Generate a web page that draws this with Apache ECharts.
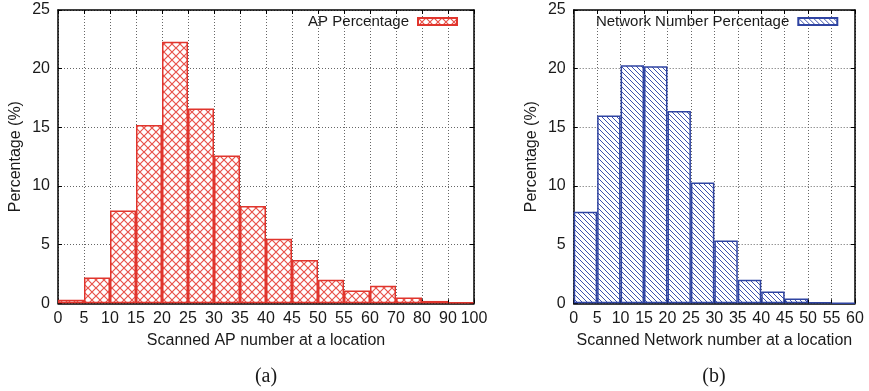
<!DOCTYPE html>
<html>
<head>
<meta charset="utf-8">
<script src="https://cdn.jsdelivr.net/npm/echarts@6/dist/echarts.min.js"></script>
<style>
  html, body { margin: 0; padding: 0; background: #fff; }
  #chart { width: 869px; height: 391px; }
</style>
</head>
<body>
<div id="chart"></div>
<script>
// (a) share of locations by number of scanned APs (bin edges shown as tick labels)
const apBinEdges = ['0', '5', '10', '15', '20', '25', '30', '35', '40', '45', '50', '55', '60', '70', '80', '90', '100'];
const apPercent = [0.3, 2.2, 7.9, 15.2, 22.3, 16.6, 12.6, 8.3, 5.5, 3.7, 2.0, 1.1, 1.5, 0.5, 0.2, 0.1];

// (b) share of locations by number of scanned networks
const netBinEdges = ['0', '5', '10', '15', '20', '25', '30', '35', '40', '45', '50', '55', '60'];
const netPercent = [7.8, 16.0, 20.3, 20.2, 16.4, 10.3, 5.35, 2.0, 1.0, 0.4, 0.1, 0.02];

const yTicks = { min: 0, max: 25, interval: 5 };

const FONT = '"Liberation Sans", Arial, Helvetica, sans-serif';
const TEXT = '#1a1a1a';
const RED = '#e0352d';
const BLUE = '#2f44a2';

// Cross-hatch fill on white
function crossHatch(color) {
  const s = 8, c = document.createElement('canvas');
  c.width = s; c.height = s;
  const g = c.getContext('2d');
  g.fillStyle = '#fff'; g.fillRect(0, 0, s, s);
  g.strokeStyle = color; g.lineWidth = 1.2;
  g.beginPath();
  g.moveTo(0, 0); g.lineTo(s, s);
  g.moveTo(s, 0); g.lineTo(0, s);
  g.stroke();
  return { image: c, repeat: 'repeat' };
}

// Diagonal "\" hatch fill on white
function diagHatch(color) {
  const s = 5, c = document.createElement('canvas');
  c.width = s; c.height = s;
  const g = c.getContext('2d');
  g.fillStyle = '#fff'; g.fillRect(0, 0, s, s);
  g.strokeStyle = color; g.lineWidth = 1;
  g.beginPath();
  g.moveTo(-1, -1); g.lineTo(s + 1, s + 1);
  g.moveTo(-1, s - 1); g.lineTo(1, s + 1);
  g.moveTo(s - 1, -1); g.lineTo(s + 1, 1);
  g.stroke();
  return { image: c, repeat: 'repeat' };
}

const frameLine = { show: true, onZero: false, lineStyle: { color: '#000', width: 1.5 } };
const innerTick = { show: true, inside: true, length: 4, lineStyle: { color: '#000', width: 1 } };
const dotted = { show: true, lineStyle: { color: '#666', width: 1, type: [1, 2] } };
const tickText = { color: TEXT, fontFamily: FONT, fontSize: 16 };

function panelAxes(gridIndex, edges, xName) {
  const n = edges.length - 1;
  const x = [
    { type: 'category', gridIndex, show: false, data: edges.slice(0, n) },
    {
      type: 'value', gridIndex, position: 'bottom', min: 0, max: n, interval: 1,
      axisLine: frameLine, axisTick: innerTick, splitLine: dotted,
      axisLabel: Object.assign({ margin: 7, formatter: v => edges[v] }, tickText),
      name: xName, nameLocation: 'middle', nameGap: 29,
      nameTextStyle: { color: TEXT, fontFamily: FONT, fontSize: 16 }
    },
    {
      type: 'value', gridIndex, position: 'top', min: 0, max: n, interval: 1,
      axisLine: frameLine, axisTick: innerTick, axisLabel: { show: false }, splitLine: { show: false }
    }
  ];
  const y = [
    {
      type: 'value', gridIndex, position: 'left', min: yTicks.min, max: yTicks.max, interval: yTicks.interval,
      axisLine: frameLine, axisTick: innerTick, splitLine: dotted,
      axisLabel: Object.assign({ margin: 8 }, tickText),
      name: 'Percentage (%)', nameLocation: 'middle', nameGap: 34,
      nameTextStyle: { color: TEXT, fontFamily: FONT, fontSize: 16 }
    },
    {
      type: 'value', gridIndex, position: 'right', min: yTicks.min, max: yTicks.max, interval: yTicks.interval,
      axisLine: frameLine, axisTick: innerTick, axisLabel: { show: false }, splitLine: { show: false }
    }
  ];
  return { x, y };
}

const a = panelAxes(0, apBinEdges, 'Scanned AP number at a location');
const b = panelAxes(1, netBinEdges, 'Scanned Network number at a location');

const legendBase = {
  top: 14, align: 'right', icon: 'rect', itemWidth: 39, itemHeight: 7, padding: 0,
  textStyle: { color: TEXT, fontFamily: FONT, fontSize: 15, padding: [0, 4, 0, 0] }
};

const option = {
  animation: false,
  backgroundColor: '#fff',
  grid: [
    { left: 58, top: 10, width: 416, height: 293.3 },
    { left: 573.7, top: 10, width: 281.3, height: 293.3 }
  ],
  xAxis: a.x.concat(b.x),
  yAxis: a.y.concat(b.y),
  legend: [
    Object.assign({ data: ['AP Percentage'], right: 411 }, legendBase),
    Object.assign({ data: ['Network Number Percentage'], right: 30.7 }, legendBase)
  ],
  series: [
    {
      name: 'AP Percentage', type: 'bar', xAxisIndex: 0, yAxisIndex: 0,
      barCategoryGap: '0%', data: apPercent,
      itemStyle: { color: crossHatch('#e8524a'), borderColor: RED, borderWidth: 1.5 }
    },
    {
      name: 'Network Number Percentage', type: 'bar', xAxisIndex: 3, yAxisIndex: 2,
      barCategoryGap: '0%', data: netPercent,
      itemStyle: { color: diagHatch('#3d52ae'), borderColor: BLUE, borderWidth: 1.5 }
    }
  ],
  graphic: [
    { type: 'text', x: 266, y: 377, style: { text: '(a)', font: '20px "Liberation Serif", "DejaVu Serif", serif', fill: TEXT, align: 'center', verticalAlign: 'middle' } },
    { type: 'text', x: 714, y: 377, style: { text: '(b)', font: '20px "Liberation Serif", "DejaVu Serif", serif', fill: TEXT, align: 'center', verticalAlign: 'middle' } }
  ]
};

const chart = echarts.init(document.getElementById('chart'), null, { renderer: 'canvas' });
chart.setOption(option);
</script>
</body>
</html>
